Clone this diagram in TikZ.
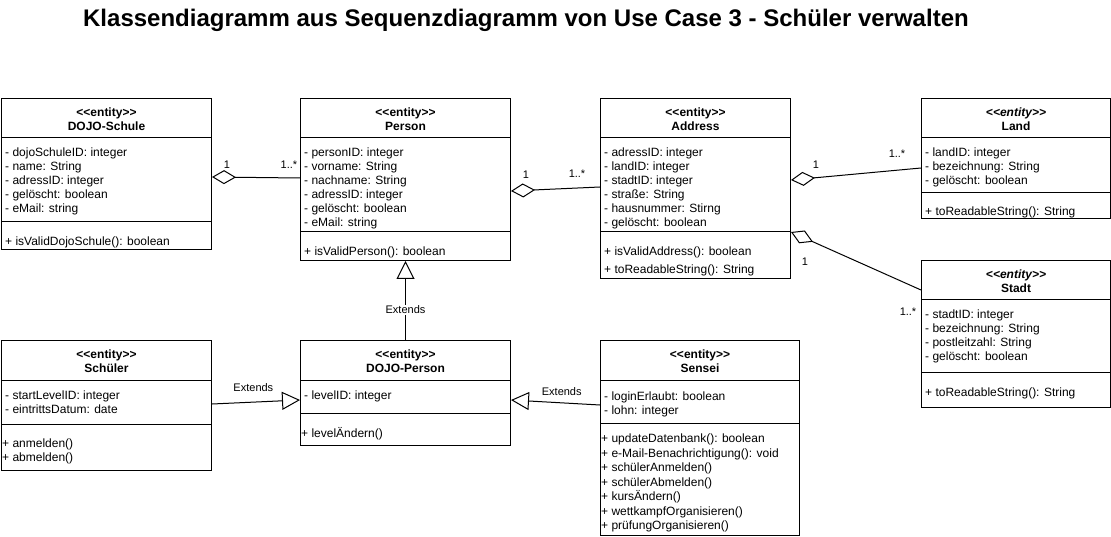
\documentclass[tikz,border=0pt]{standalone}
\usepackage{fontspec}
\setmainfont{Liberation Sans}[Ligatures=TeXOff]
\usetikzlibrary{arrows.meta}

% class box: name, top left, width, attribute height, method height, stereotype, title
\newcommand{\umlclass}[7]{%
  \node[classbox, minimum width=#3pt, minimum height={(40+#4+#5)*1pt}] (#1) at (#2) {};
  \draw[classline] ([yshift=-40pt]#1.north west) -- ([yshift=-40pt]#1.north east);
  \draw[classline] ([yshift={-(40+#4)*1pt}]#1.north west) -- ([yshift={-(40+#4)*1pt}]#1.north east);
  \node[headtext] at ([yshift=-21.5pt]#1.north) {#6\\#7};
}
% member lines: class, x offset, first baseline, line step, list
\newcommand{\umlmembers}[5]{%
  \foreach \m [count=\i from 0] in {#5}
    \node[membertext] at ([xshift=#2pt, yshift={-(#3+1.5+\i*#4)*1pt}]#1.north west) {\m};
}

\begin{document}
\begin{tikzpicture}[x=1pt,y=-1pt,
  classbox/.style={draw,line width=1pt,anchor=north west,inner sep=0pt},
  classline/.style={line width=1pt},
  headtext/.style={align=center,font=\fontsize{12}{14}\selectfont\bfseries,inner sep=0pt},
  membertext/.style={anchor=base west,inner sep=0pt,font=\fontsize{12}{14}\selectfont},
  mult/.style={font=\fontsize{11}{13}\selectfont,inner sep=0pt},
  aggr/.style={line width=1pt,{Diamond[open,length=24pt,width=14pt]}-},
  extends/.style={line width=1pt,-{Triangle[open,length=18pt,width=18pt]}},
  extlabel/.style={font=\fontsize{11}{13}\selectfont,fill=white,inner sep=1pt}]
  \useasboundingbox (0,0) rectangle (1111,537);

  \node[font=\fontsize{24}{28}\selectfont\bfseries] (title) at (526,20)
    {Klassendiagramm aus Sequenzdiagramm von Use Case 3 - Schüler verwalten};

  \umlclass{schule}{1,98}{210}{84}{27}{<<entity>>}{DOJO-Schule}
  \umlmembers{schule}{4}{57}{14}{- dojoSchuleID: integer, - name: String, - adressID: integer, - gelöscht: boolean, - eMail: string}
  \umlmembers{schule}{4}{146}{14}{+ isValidDojoSchule(): boolean}

  \umlclass{person}{300,98}{210}{94}{28}{<<entity>>}{Person}
  \umlmembers{person}{4}{57}{14}{- personID: integer, - vorname: String, - nachname: String, - adressID: integer, - gelöscht: boolean, - eMail: string}
  \umlmembers{person}{4}{156}{14}{+ isValidPerson(): boolean}

  \umlclass{address}{600,98}{190}{94}{46}{<<entity>>}{Address}
  \umlmembers{address}{4}{57}{14}{- adressID: integer, - landID: integer, - stadtID: integer, - straße: String, - hausnummer: Stirng, - gelöscht: boolean}
  \umlmembers{address}{4}{156}{18}{+ isValidAddress(): boolean, + toReadableString(): String}

  \umlclass{land}{921,98}{189}{55}{25}{\textit{<<entity>>}}{Land}
  \umlmembers{land}{4}{57}{14}{- landID: integer, - bezeichnung: String, - gelöscht: boolean}
  \umlmembers{land}{4}{116}{14}{+ toReadableString(): String}

  \umlclass{stadt}{921,260}{189}{72}{35}{\textit{<<entity>>}}{Stadt}
  \umlmembers{stadt}{4}{57}{14}{- stadtID: integer, - bezeichnung: String, - postleitzahl: String, - gelöscht: boolean}
  \umlmembers{stadt}{4}{135}{14}{+ toReadableString(): String}

  \umlclass{schueler}{1,340}{210}{44}{46}{<<entity>>}{Schüler}
  \umlmembers{schueler}{4}{58}{14}{- startLevelID: integer, - eintrittsDatum: date}
  \umlmembers{schueler}{1}{106}{14}{+ anmelden(), + abmelden()}

  \umlclass{dojoperson}{300,340}{210}{33}{32}{<<entity>>}{DOJO-Person}
  \umlmembers{dojoperson}{4}{58}{14}{- levelID: integer}
  \umlmembers{dojoperson}{1}{96}{14}{+ levelÄndern()}

  \umlclass{sensei}{600,340}{199}{43}{112}{<<entity>>}{Sensei}
  \umlmembers{sensei}{4}{59}{13.5}{- loginErlaubt: boolean, - lohn: integer}
  \umlmembers{sensei}{1}{101}{14.5}{+ updateDatenbank(): boolean, + e-Mail-Benachrichtigung(): void, + schülerAnmelden(), + schülerAbmelden(), + kursÄndern(), + wettkampfOrganisieren(), + prüfungOrganisieren()}

  \draw[aggr] ([yshift=-79pt]schule.north east) -- ([yshift=-80pt]person.north west)
    node[mult, at start, xshift=15pt, yshift=12pt] {1}
    node[mult, at end, xshift=-11pt, yshift=13pt] {1..*};
  \draw[aggr] ([yshift=-93pt]person.north east) -- ([yshift=-89pt]address.north west)
    node[mult, at start, xshift=15pt, yshift=16pt] {1}
    node[mult, at end, xshift=-23pt, yshift=13pt] {1..*};
  \draw[aggr] ([yshift=-82pt]address.north east) -- ([yshift=-70pt]land.north west)
    node[mult, at start, xshift=25pt, yshift=15pt] {1}
    node[mult, at end, xshift=-24pt, yshift=14pt] {1..*};
  \draw[aggr] ([yshift=-134pt]address.north east) -- ([yshift=-30pt]stadt.north west)
    node[mult, at start, xshift=14pt, yshift=-30pt] {1}
    node[mult, at end, xshift=-13pt, yshift=-22pt] {1..*};

  \draw[extends] (dojoperson.north) -- (person.south)
    node[extlabel, pos=0.385] {Extends};
  \draw[extends] ([yshift=-64pt]schueler.north east) -- ([yshift=-60pt]dojoperson.north west)
    node[extlabel, pos=0.47, yshift=15pt] {Extends};
  \draw[extends] ([yshift=-65pt]sensei.north west) -- ([yshift=-60pt]dojoperson.north east)
    node[extlabel, pos=0.43, yshift=11pt] {Extends};
\end{tikzpicture}
\end{document}
